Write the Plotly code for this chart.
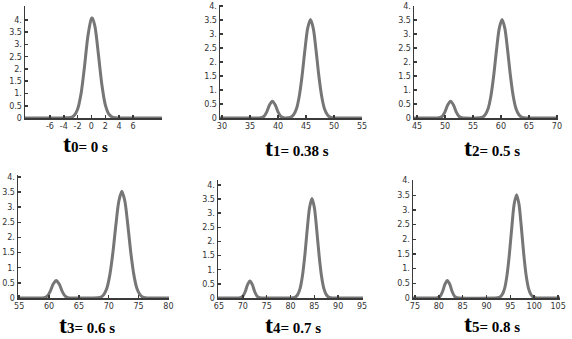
import plotly.graph_objects as go

W, H = 572, 339

# ---------------- data ----------------
x0 = [-9.6, -4, -3.5, -3, -2.5, -2, -1.5, -1, -0.5, 0, 0.1, 0.5, 1, 1.5, 2, 2.5, 3, 3.5, 4, 10.2]
y0 = [0, 0, 0.01, 0.02, 0.10, 0.36, 0.99, 2.10, 3.36, 4.06, 4.08, 3.75, 2.62, 1.38, 0.55, 0.17, 0.04, 0.01, 0, 0]

x1 = [29.65, 36.5, 37, 37.5, 38, 38.5, 39, 39.5, 40, 40.5, 41, 41.5,
      41.8, 42.3, 42.8, 43.3, 43.8, 44.3, 44.8, 45.3, 45.8, 46.3, 46.8, 47.3, 47.8, 48.3, 48.8, 49.3, 49.8, 50.3,
      55.0]
y1 = [0, 0, 0.01, 0.06, 0.22, 0.47, 0.60, 0.47, 0.22, 0.06, 0.01, 0,
      0.01, 0.03, 0.12, 0.33, 0.78, 1.50, 2.41, 3.20, 3.52, 3.20, 2.41, 1.50, 0.78, 0.33, 0.12, 0.03, 0.01, 0,
      0]

x2 = [44.46, 48.5, 49, 49.5, 50, 50.5, 51, 51.5, 52, 52.5, 53, 53.5,
      56.2, 56.7, 57.2, 57.7, 58.2, 58.7, 59.2, 59.7, 60.2, 60.7, 61.2, 61.7, 62.2, 62.7, 63.2, 63.7, 64.2, 64.7,
      70.2]
y2 = [0, 0, 0.01, 0.06, 0.22, 0.47, 0.60, 0.47, 0.22, 0.06, 0.01, 0,
      0.01, 0.03, 0.12, 0.33, 0.78, 1.50, 2.41, 3.20, 3.52, 3.20, 2.41, 1.50, 0.78, 0.33, 0.12, 0.03, 0.01, 0,
      0]

x3 = [54.8, 58.7, 59.2, 59.7, 60.2, 60.7, 61.2, 61.7, 62.2, 62.7, 63.2, 63.7,
      68.2, 68.7, 69.2, 69.7, 70.2, 70.7, 71.2, 71.7, 72.2, 72.7, 73.2, 73.7, 74.2, 74.7, 75.2, 75.7, 76.2, 76.7,
      80.1]
y3 = [0, 0, 0.01, 0.06, 0.22, 0.46, 0.58, 0.46, 0.22, 0.06, 0.01, 0,
      0.01, 0.03, 0.12, 0.33, 0.78, 1.50, 2.41, 3.20, 3.52, 3.20, 2.41, 1.50, 0.78, 0.33, 0.12, 0.03, 0.01, 0,
      0]

x4 = [64.8, 69, 69.5, 70, 70.5, 71, 71.5, 72, 72.5, 73, 73.5, 74,
      80.5, 81, 81.5, 82, 82.5, 83, 83.5, 84, 84.5, 85, 85.5, 86, 86.5, 87, 87.5, 88, 88.5, 89,
      95.2]
y4 = [0, 0, 0.01, 0.06, 0.22, 0.47, 0.60, 0.47, 0.22, 0.06, 0.01, 0,
      0.01, 0.03, 0.12, 0.33, 0.78, 1.50, 2.41, 3.20, 3.52, 3.20, 2.41, 1.50, 0.78, 0.33, 0.12, 0.03, 0.01, 0,
      0]

x5 = [74.6, 79.3, 79.8, 80.3, 80.8, 81.3, 81.8, 82.3, 82.8, 83.3, 83.8, 84.3,
      92.3, 92.8, 93.3, 93.8, 94.3, 94.8, 95.3, 95.8, 96.3, 96.8, 97.3, 97.8, 98.3, 98.8, 99.3, 99.8, 100.3, 100.8,
      105.4]
y5 = [0, 0, 0.01, 0.06, 0.22, 0.47, 0.60, 0.47, 0.22, 0.06, 0.01, 0,
      0.01, 0.03, 0.12, 0.33, 0.78, 1.50, 2.41, 3.20, 3.52, 3.20, 2.41, 1.50, 0.78, 0.33, 0.12, 0.03, 0.01, 0,
      0]

xticks0 = [-6, -4, -2, 0, 2, 4, 6]
xticks1 = [30, 35, 40, 45, 50, 55]
xticks2 = [45, 50, 55, 60, 65, 70]
xticks3 = [55, 60, 65, 70, 75, 80]
xticks4 = [65, 70, 75, 80, 85, 90, 95]
xticks5 = [75, 80, 85, 90, 95, 100, 105]
yticks = [0, 0.5, 1, 1.5, 2, 2.5, 3, 3.5, 4]
ytick_labels = ["0", "0.5", "1.", "1.5", "2.", "2.5", "3.", "3.5", "4."]

subscripts = ["0", "1", "2", "3", "4", "5"]
times = ["0 s", "0.38 s", "0.5 s", "0.6 s", "0.7 s", "0.8 s"]

# ---------------- layout (pixel geometry) ----------------
# (x_left, x_right, y_top, y_bottom) in px, x range, y max, title center-x / box bottom (px)
panels = [
    (x0, y0, xticks0, (25, 162, 6, 118), (-9.6, 10.2), 4.57, (85, 159)),
    (x1, y1, xticks1, (220, 362, 4.6, 118), (29.65, 55.0), 4.05, (297, 163)),
    (x2, y2, xticks2, (414, 558, 6, 118), (44.46, 70.2), 4.0, (492, 163)),
    (x3, y3, xticks3, (18, 169, 175, 298), (54.8, 80.1), 4.06, (87, 339.5)),
    (x4, y4, xticks4, (218, 363, 180, 298), (64.8, 95.2), 4.17, (293, 339.5)),
    (x5, y5, xticks5, (413, 560, 180, 298), (74.6, 105.4), 4.02, (492, 338.5)),
]

fig = go.Figure()
tick_font = dict(family="DejaVu Sans", size=8, color="#333333")
axis_col = "#3a3a3a"

for i, (xs, ys, xt, (l, r, t, b), xr, ymax, (tx, ty)) in enumerate(panels):
    n = "" if i == 0 else str(i + 1)
    fig.add_trace(go.Scatter(
        x=xs, y=ys, mode="lines",
        line=dict(color="#767676", width=3, shape="spline", smoothing=0.8),
        xaxis="x" + n, yaxis="y" + n, showlegend=False, hoverinfo="skip",
    ))
    xt_text = [str(v) for v in xt]
    fig.update_layout(**{
        "xaxis" + n: dict(
            domain=[l / W, r / W], range=list(xr), anchor="y" + n, automargin=False,
            showgrid=False, zeroline=False, showline=True, linecolor=axis_col, linewidth=1.5,
            tickvals=xt, ticktext=xt_text, ticks="inside", ticklen=3, tickwidth=1.5,
            tickcolor=axis_col, tickfont=tick_font,
        ),
        "yaxis" + n: dict(
            domain=[1 - b / H, 1 - t / H], range=[0, ymax], anchor="x" + n, automargin=False,
            showgrid=False, zeroline=False, showline=True, linecolor=axis_col, linewidth=1.5,
            tickvals=yticks, ticktext=ytick_labels, ticks="inside", ticklen=3, tickwidth=1.5,
            tickcolor=axis_col, tickfont=tick_font,
        ),
    })
    fig.add_annotation(
        x=tx / W, y=1 - ty / H, xref="paper", yref="paper",
        xanchor="center", yanchor="bottom", showarrow=False,
        text="<b>t<span style='font-size:15px'>" + subscripts[i] + "= " + times[i] + "</span></b>",
        font=dict(family="Liberation Serif", size=24, color="black"),
    )

fig.update_layout(
    width=W, height=H,
    margin=dict(l=0, r=0, t=0, b=0),
    paper_bgcolor="white", plot_bgcolor="white",
)

fig.write_html(
    "out.html",
    config={"displayModeBar": False, "staticPlot": True},
    post_script="document.body.style.margin='0';document.body.style.overflow='hidden';",
)
